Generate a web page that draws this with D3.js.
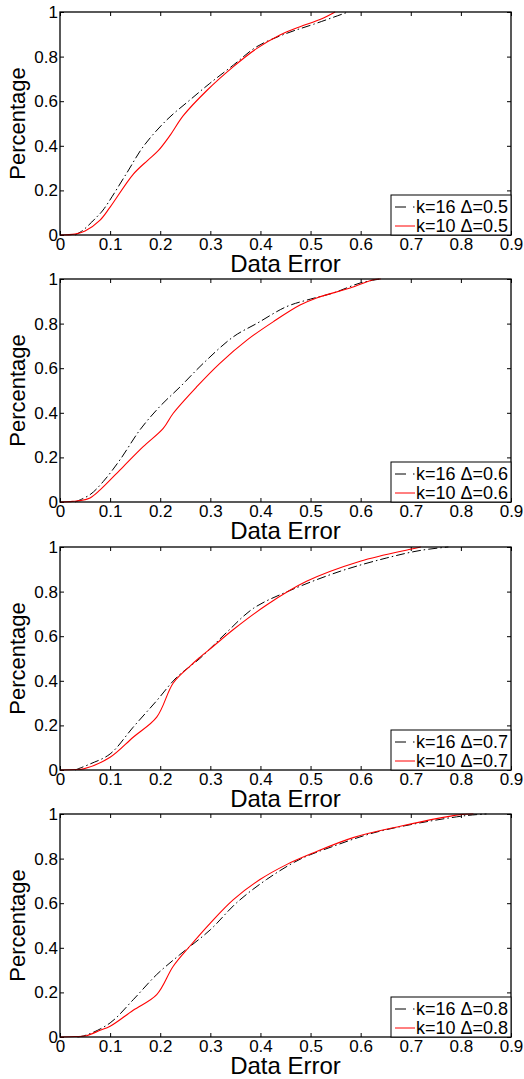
<!DOCTYPE html>
<html>
<head>
<meta charset="utf-8">
<script src="https://cdn.jsdelivr.net/npm/d3@7"></script>
<style>
  body { margin: 0; background: #fff; }
  text { font-family: "Liberation Sans", Arial, sans-serif; fill: #000; }
</style>
</head>
<body>
<div id="chart"></div>
<script>
// Values: [data error, percentage]
const deltas = ["0.5", "0.6", "0.7", "0.8"];
const xTicks = [0, 0.1, 0.2, 0.3, 0.4, 0.5, 0.6, 0.7, 0.8, 0.9];
const yTicks = [0, 0.2, 0.4, 0.6, 0.8, 1];

const k16_d05 = [[0.03,0],[0.045,0.02],[0.073,0.08],[0.086,0.112],[0.133,0.277],[0.166,0.396],[0.213,0.516],[0.259,0.605],[0.299,0.68],[0.346,0.762],[0.393,0.845],[0.452,0.904],[0.506,0.945],[0.575,1]];
const k10_d05 = [[0,0],[0.03,0.004],[0.05,0.018],[0.08,0.067],[0.1,0.125],[0.146,0.272],[0.175,0.335],[0.196,0.378],[0.22,0.448],[0.246,0.535],[0.293,0.648],[0.346,0.755],[0.393,0.837],[0.439,0.897],[0.479,0.934],[0.52,0.967],[0.549,1]];

const k16_d06 = [[0.03,0],[0.06,0.033],[0.086,0.091],[0.12,0.19],[0.16,0.325],[0.2,0.43],[0.24,0.517],[0.286,0.622],[0.346,0.741],[0.393,0.801],[0.452,0.876],[0.5,0.91],[0.545,0.937],[0.599,0.982],[0.639,1]];
const k10_d06 = [[0,0],[0.025,0.003],[0.04,0.006],[0.06,0.018],[0.08,0.054],[0.126,0.158],[0.166,0.248],[0.206,0.33],[0.226,0.398],[0.273,0.517],[0.319,0.622],[0.373,0.726],[0.426,0.809],[0.479,0.883],[0.512,0.915],[0.579,0.96],[0.625,0.997],[0.64,1]];

const k16_d07 = [[0.03,0],[0.06,0.027],[0.1,0.072],[0.146,0.192],[0.193,0.311],[0.233,0.416],[0.279,0.5],[0.333,0.618],[0.386,0.725],[0.459,0.805],[0.559,0.891],[0.652,0.951],[0.72,0.985],[0.775,1]];
const k10_d07 = [[0,0],[0.03,0.002],[0.047,0.005],[0.1,0.057],[0.146,0.147],[0.193,0.237],[0.226,0.39],[0.259,0.465],[0.279,0.505],[0.306,0.555],[0.346,0.63],[0.413,0.741],[0.492,0.846],[0.599,0.936],[0.699,0.99],[0.72,1]];

const k16_d08 = [[0.035,0],[0.053,0.009],[0.1,0.063],[0.146,0.167],[0.193,0.28],[0.239,0.369],[0.3,0.481],[0.352,0.601],[0.412,0.706],[0.479,0.797],[0.545,0.855],[0.625,0.915],[0.718,0.96],[0.811,0.993],[0.851,1]];
const k10_d08 = [[0,0],[0.03,0.002],[0.053,0.006],[0.08,0.03],[0.1,0.048],[0.146,0.12],[0.193,0.19],[0.226,0.317],[0.259,0.407],[0.3,0.511],[0.346,0.616],[0.399,0.706],[0.452,0.773],[0.505,0.825],[0.585,0.894],[0.679,0.945],[0.798,0.997],[0.825,1]];

const k16Series = [k16_d05, k16_d06, k16_d07, k16_d08];
const k10Series = [k10_d05, k10_d06, k10_d07, k10_d08];

// Layout
const W = 524, H = 1079;
const left = 60, right = 511;
const panelTops = [12, 279, 547, 814];
const panelH = 223;

const svg = d3.select("#chart").append("svg")
    .attr("width", W)
    .attr("height", H);

const x = d3.scaleLinear().domain([0, 0.9]).range([0, right - left]);
const y = d3.scaleLinear().domain([0, 1]).range([panelH, 0]);
const fmt = d3.format("~g");

const line = d3.line()
    .x(d => x(d[0]))
    .y(d => y(d[1]))
    .curve(d3.curveCatmullRom.alpha(0.5));

const dashDot = "9,3,1.5,3";

deltas.forEach((delta, i) => {
    const g = svg.append("g")
        .attr("transform", `translate(${left},${panelTops[i]})`);
    const w = right - left;

    // bottom axis with inward ticks
    const xb = g.append("g")
        .attr("transform", `translate(0,${panelH})`)
        .call(d3.axisBottom(x).tickValues(xTicks).tickFormat(fmt).tickSizeInner(-4).tickSizeOuter(0).tickPadding(3));
    xb.selectAll("text").style("font-size", "17px");

    g.append("g")
        .call(d3.axisTop(x).tickValues(xTicks).tickFormat("").tickSizeInner(-4).tickSizeOuter(0));

    const yl = g.append("g")
        .call(d3.axisLeft(y).tickValues(yTicks).tickFormat(fmt).tickSizeInner(-4).tickSizeOuter(0).tickPadding(2));
    yl.selectAll("text").style("font-size", "17px");

    g.append("g")
        .attr("transform", `translate(${w},0)`)
        .call(d3.axisRight(y).tickValues(yTicks).tickFormat("").tickSizeInner(-4).tickSizeOuter(0));

    g.selectAll(".domain").remove();
    g.selectAll(".tick line").attr("stroke", "#000");
    g.selectAll(".tick text").attr("fill", "#000");

    // curves
    g.append("path")
        .datum(k16Series[i])
        .attr("fill", "none")
        .attr("stroke", "#000")
        .attr("stroke-width", 1)
        .attr("stroke-dasharray", dashDot)
        .attr("d", line);

    g.append("path")
        .datum(k10Series[i])
        .attr("fill", "none")
        .attr("stroke", "#ff0000")
        .attr("stroke-width", 1.1)
        .attr("d", line);

    // frame
    g.append("rect")
        .attr("width", w)
        .attr("height", panelH)
        .attr("fill", "none")
        .attr("stroke", "#000")
        .attr("stroke-width", 1.3);

    // axis labels
    g.append("text")
        .attr("x", w / 2)
        .attr("y", panelH + 37)
        .attr("text-anchor", "middle")
        .style("font-size", "24px")
        .text("Data Error");

    g.append("text")
        .attr("transform", `translate(${25 - left},${panelH / 2}) rotate(-90)`)
        .attr("text-anchor", "middle")
        .style("font-size", "22px")
        .text("Percentage");

    // legend
    const lw = 120, lh = 40;
    const lg = g.append("g")
        .attr("transform", `translate(${w - lw},${panelH - lh})`);
    lg.append("rect")
        .attr("width", lw)
        .attr("height", lh)
        .attr("fill", "#fff")
        .attr("stroke", "#000")
        .attr("stroke-width", 1);

    lg.append("line")
        .attr("x1", 4).attr("x2", 24)
        .attr("y1", 12).attr("y2", 12)
        .attr("stroke", "#000")
        .attr("stroke-dasharray", "11,7,1.5,3");
    lg.append("text")
        .attr("x", 25).attr("y", 18)
        .style("font-size", "18px")
        .text(`k=16 Δ=${delta}`);

    lg.append("line")
        .attr("x1", 4).attr("x2", 24)
        .attr("y1", 31).attr("y2", 31)
        .attr("stroke", "#ff0000");
    lg.append("text")
        .attr("x", 25).attr("y", 37)
        .style("font-size", "18px")
        .text(`k=10 Δ=${delta}`);
});
</script>
</body>
</html>
